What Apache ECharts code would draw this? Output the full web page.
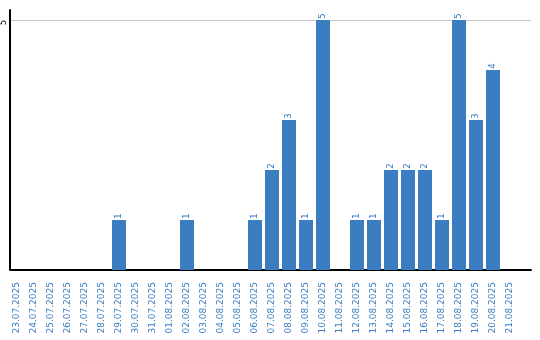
<!DOCTYPE html>
<html>
<head>
<meta charset="utf-8">
<script src="https://cdn.jsdelivr.net/npm/echarts@6/dist/echarts.min.js"></script>
<style>html,body{margin:0;padding:0;background:#fff}#c{width:540px;height:340px}</style>
</head>
<body>
<div id="c"></div>
<script>
var categories = ['23.07.2025','24.07.2025','25.07.2025','26.07.2025','27.07.2025','28.07.2025','29.07.2025','30.07.2025','31.07.2025','01.08.2025','02.08.2025','03.08.2025','04.08.2025','05.08.2025','06.08.2025','07.08.2025','08.08.2025','09.08.2025','10.08.2025','11.08.2025','12.08.2025','13.08.2025','14.08.2025','15.08.2025','16.08.2025','17.08.2025','18.08.2025','19.08.2025','20.08.2025','21.08.2025'];
var values = [0,0,0,0,0,0,1,0,0,0,1,0,0,0,1,2,3,1,5,0,1,1,2,2,2,1,5,3,4,0];
var yMax = 5;
var yTicks = [5];

var blue = '#3b7dc1';
var font = 'DejaVu Sans, Verdana, sans-serif';
var chart = echarts.init(document.getElementById('c'), null, {renderer:'canvas'});
chart.setOption({
  animation: false,
  grid: [
    {left: 8.5, width: 510, top: 20, height: 250},
    {left: 10, right: 9, top: 20, height: 250},
    {left: 10, right: 9, top: 10, height: 260}
  ],
  xAxis: [
    {type: 'category', data: categories, gridIndex: 0,
     axisLine: {show: false}, axisTick: {show: false},
     axisLabel: {rotate: 90, color: blue, fontSize: 9, fontFamily: font, margin: 12, interval: 0}},
    {type: 'value', gridIndex: 1, min: 0, max: 1,
     axisLine: {show: true, lineStyle: {color: '#000', width: 2}}, axisTick: {show: false},
     axisLabel: {show: false}, splitLine: {show: false}},
    {type: 'value', gridIndex: 2, min: 0, max: 1, show: false}
  ],
  yAxis: [
    {type: 'value', gridIndex: 0, min: 0, max: yMax, show: false},
    {type: 'value', gridIndex: 1, min: 0, max: yMax, interval: yTicks[0],
     axisLine: {show: false}, axisTick: {show: false},
     axisLabel: {rotate: 90, color: '#000', fontSize: 8, fontFamily: font, margin: 3,
                 align: 'right', verticalAlign: 'bottom',
                 formatter: function(v){ return v === 0 ? '' : String(v); }},
     splitLine: {show: true, lineStyle: {color: '#c8c8c8', width: 1}}},
    {type: 'value', gridIndex: 2, min: 0, max: 1,
     axisLine: {show: true, onZero: false, lineStyle: {color: '#000', width: 2}}, axisTick: {show: false},
     axisLabel: {show: false}, splitLine: {show: false}}
  ],
  series: [{
    type: 'bar', xAxisIndex: 0, yAxisIndex: 0, data: values, barWidth: 14,
    itemStyle: {color: blue},
    label: {show: true, position: 'top', rotate: 90, distance: 2, color: blue, fontSize: 9,
            fontFamily: font, align: 'left', verticalAlign: 'middle', offset: [-1, 0],
            formatter: function(p){ return p.value ? String(p.value) : ''; }}
  }]
});
</script>
</body>
</html>
